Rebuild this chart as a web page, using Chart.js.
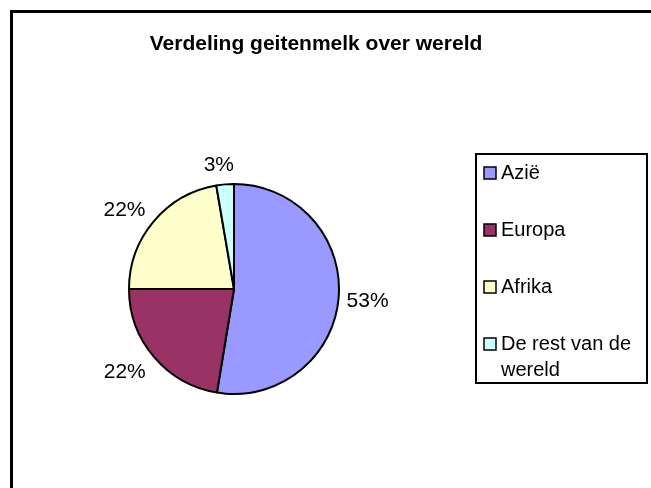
<!DOCTYPE html>
<html>
<head>
<meta charset="utf-8">
<script src="https://cdn.jsdelivr.net/npm/chart.js@4/dist/chart.umd.min.js"></script>
<style>
  html, body { margin: 0; padding: 0; background: #fff; }
  #wrap { width: 651px; height: 488px; }
</style>
</head>
<body>
<div id="wrap"><canvas id="pieChart"></canvas></div>
<script>
// Data.
var title = 'Verdeling geitenmelk over wereld';
var labels = ['Azië', 'Europa', 'Afrika', 'De rest van de wereld'];
var legendLines = [['Azië'], ['Europa'], ['Afrika'], ['De rest van de', 'wereld']];
var shares = [52.6, 22.4, 22.3, 2.7];
var colors = ['#9999FF', '#993366', '#FFFFCC', '#CCFFFF'];

var font = '"Liberation Sans", Arial, sans-serif';

// Frame, title, percentage labels and legend box.
var extras = {
    id: 'extras',
    beforeDraw: function(chart) {
        var ctx = chart.ctx;
        ctx.save();
        ctx.fillStyle = '#fff';
        ctx.fillRect(0, 0, chart.width, chart.height);
        ctx.fillStyle = '#000';
        ctx.fillRect(10, 10, 3, chart.height - 10);
        ctx.fillRect(10, 10, chart.width - 10, 3);

        ctx.font = 'bold 21px ' + font;
        ctx.textAlign = 'center';
        ctx.textBaseline = 'middle';
        ctx.fillText(title, 316, 44);
        ctx.restore();
    },
    afterDraw: function(chart) {
        var ctx = chart.ctx;
        var total = shares.reduce(function(a, b) { return a + b; }, 0);
        ctx.save();
        ctx.fillStyle = '#000';
        ctx.font = '21px ' + font;
        ctx.textAlign = 'center';
        ctx.textBaseline = 'middle';
        chart.getDatasetMeta(0).data.forEach(function(arc, i) {
            var mid = (arc.startAngle + arc.endAngle) / 2;
            var txt = Math.round(shares[i] / total * 100) + '%';
            var w = ctx.measureText(txt).width;
            var r = arc.outerRadius + 12;
            var x = arc.x + r * Math.cos(mid) + Math.cos(mid) * w / 2 - 4;
            var y = arc.y + r * Math.sin(mid) + Math.sin(mid) * 9 + 2;
            ctx.fillText(txt, x, y);
        });

        // legend
        ctx.lineWidth = 2;
        ctx.strokeStyle = '#000';
        ctx.strokeRect(476, 154, 171, 229);
        ctx.font = '20px ' + font;
        ctx.textAlign = 'left';
        legendLines.forEach(function(lines, i) {
            var cy = 173 + i * 57;
            ctx.fillStyle = colors[i];
            ctx.fillRect(484, cy - 6, 12, 12);
            ctx.lineWidth = 1.5;
            ctx.strokeRect(484, cy - 6, 12, 12);
            ctx.fillStyle = '#000';
            lines.forEach(function(line, j) {
                ctx.fillText(line, 501, cy + j * 26);
            });
        });
        ctx.restore();
    }
};

var chart = new Chart(document.getElementById('pieChart'), {
    type: 'pie',
    data: {
        labels: labels,
        datasets: [{
            data: shares,
            backgroundColor: colors,
            borderColor: '#000',
            borderWidth: 2
        }]
    },
    options: {
        responsive: true,
        maintainAspectRatio: false,
        animation: false,
        layout: { padding: { left: 128, right: 311, top: 183, bottom: 93 } },
        plugins: {
            legend: { display: false },
            title: { display: false },
            tooltip: { enabled: false }
        }
    },
    plugins: [extras]
});
</script>
</body>
</html>
